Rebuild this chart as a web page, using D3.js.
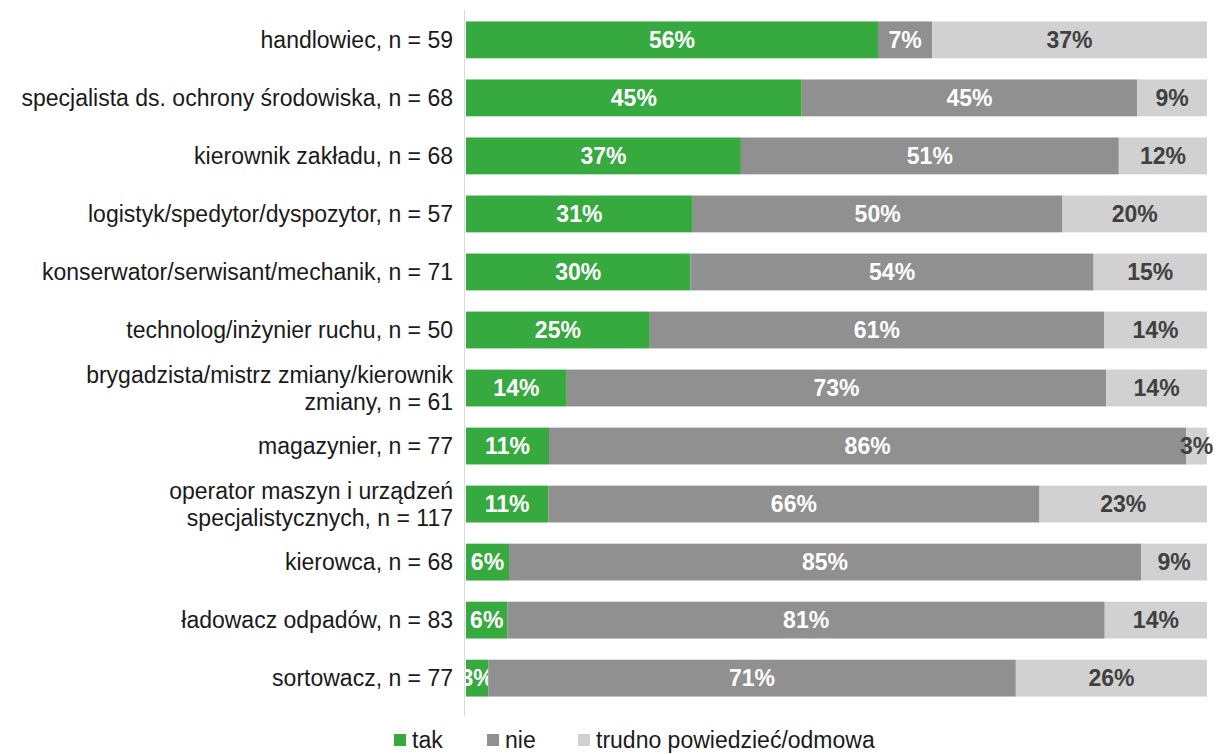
<!DOCTYPE html>
<html>
<head>
<meta charset="utf-8">
<script src="https://cdn.jsdelivr.net/npm/d3@7"></script>
<style>
  body { margin: 0; background: #fff; }
  svg { display: block; font-family: Arial, "Liberation Sans", sans-serif; }
</style>
</head>
<body>
<svg id="chart" width="1217" height="754"></svg>
<script>
(function(d3) {

  // Data
  var categories = [
    "handlowiec, n = 59",
    "specjalista ds. ochrony środowiska, n = 68",
    "kierownik zakładu, n = 68",
    "logistyk/spedytor/dyspozytor, n = 57",
    "konserwator/serwisant/mechanik, n = 71",
    "technolog/inżynier ruchu, n = 50",
    "brygadzista/mistrz zmiany/kierownik\nzmiany, n = 61",
    "magazynier, n = 77",
    "operator maszyn i urządzeń\nspecjalistycznych, n = 117",
    "kierowca, n = 68",
    "ładowacz odpadów, n = 83",
    "sortowacz, n = 77"
  ];
  var seriesNames = ["tak", "nie", "trudno powiedzieć/odmowa"];
  var tak   = [55.6, 45.3, 37.1, 30.6, 30.3, 24.8, 13.6, 11.2, 11.1, 5.8, 5.6, 3.0];
  var nie   = [7.3, 45.3, 51.0, 49.9, 54.4, 61.3, 72.8, 86.0, 66.3, 85.3, 80.6, 71.2];
  var trudno = [37.1, 9.4, 11.9, 19.5, 15.3, 13.9, 13.6, 2.8, 22.6, 8.9, 13.8, 25.8];

  var colors = ["#36a93f", "#909090", "#d0d1d0"];
  var labelColors = ["#ffffff", "#ffffff", "#404040"];

  var rows = categories.map(function(c, i) {
    return { cat: c, tak: tak[i], nie: nie[i], trudno: trudno[i] };
  });

  var svg = d3.select("#chart");

  var x = d3.scaleLinear().domain([0, 100]).range([466, 1207]);
  var y = d3.scaleBand()
    .domain(categories)
    .range([11, 707])
    .paddingInner(0.365)
    .paddingOuter(0.18);

  var stack = d3.stack().keys(["tak", "nie", "trudno"]);
  var layers = stack(rows);

  // Bars
  var g = svg.append("g");
  layers.forEach(function(layer, li) {
    var lg = g.append("g");
    lg.selectAll("rect")
      .data(layer)
      .enter().append("rect")
      .attr("x", function(d) { return x(d[0]); })
      .attr("y", function(d) { return y(d.data.cat); })
      .attr("width", function(d) { return x(d[1]) - x(d[0]); })
      .attr("height", y.bandwidth())
      .attr("fill", colors[li]);

    lg.selectAll("text")
      .data(layer)
      .enter().append("text")
      .attr("x", function(d) { return (x(d[0]) + x(d[1])) / 2; })
      .attr("y", function(d) { return y(d.data.cat) + y.bandwidth() / 2; })
      .attr("dy", "0.36em")
      .attr("text-anchor", "middle")
      .attr("fill", labelColors[li])
      .style("font-size", "23px")
      .style("font-weight", "bold")
      .text(function(d) { return Math.round(d[1] - d[0]) + "%"; });
  });

  // Axis line
  svg.append("line")
    .attr("x1", 464.5).attr("x2", 464.5)
    .attr("y1", 10).attr("y2", 716)
    .attr("stroke", "#d9d9d9")
    .attr("stroke-width", 1);

  // Category labels
  var labels = svg.append("g")
    .selectAll("text")
    .data(categories)
    .enter().append("text")
    .attr("text-anchor", "end")
    .attr("fill", "#1a1a1a")
    .style("font-size", "23px");

  labels.each(function(c) {
    var lines = c.split("\n");
    var cy = y(c) + y.bandwidth() / 2;
    var lh = 27;
    var t = d3.select(this);
    lines.forEach(function(line, k) {
      t.append("tspan")
        .attr("x", 453)
        .attr("y", cy + (k - (lines.length - 1) / 2) * lh)
        .attr("dy", "0.36em")
        .text(line);
    });
  });

  // Legend
  var legendX = [394, 487, 578];
  var legend = svg.append("g")
    .selectAll("g")
    .data(seriesNames)
    .enter().append("g")
    .attr("transform", function(d, i) { return "translate(" + legendX[i] + ",734)"; });

  legend.append("rect")
    .attr("width", 12).attr("height", 12)
    .attr("fill", function(d, i) { return colors[i]; });

  legend.append("text")
    .attr("x", 18)
    .attr("y", 6)
    .attr("dy", "0.36em")
    .attr("fill", "#1a1a1a")
    .style("font-size", "23px")
    .text(function(d) { return d; });

})(d3);
</script>
</body>
</html>
